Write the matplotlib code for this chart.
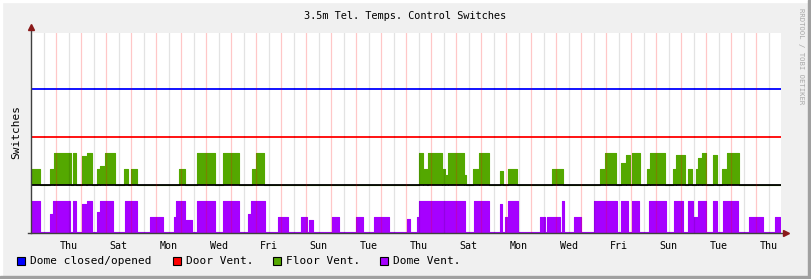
import matplotlib
matplotlib.use("Agg")
import matplotlib.pyplot as plt
from matplotlib.patches import Rectangle
import numpy as np

# ---------------- data ----------------
title = "3.5m Tel. Temps. Control Switches"
ylabel = "Switches"
day_labels = ["Thu", "Sat", "Mon", "Wed", "Fri", "Sun", "Tue", "Thu",
              "Sat", "Mon", "Wed", "Fri", "Sun", "Tue", "Thu"]
legend_names = ["Dome closed/opened", "Door Vent.", "Floor Vent.", "Dome Vent."]
legend_colors = ["#0000FF", "#FF0000", "#54A800", "#A600FF"]

n_days = 30
dome_closed_level = 9.0      # constant line
door_vent_level = 6.0        # constant line
floor_vent_base = 3.0        # baseline for floor vent area

# Floor vent on-intervals: (start_day, end_day, value)
floor_vent = [
    (0.00, 0.36, 1), (0.76, 0.92, 1), (0.92, 1.59, 2), (1.69, 1.80, 2),
    (2.03, 2.20, 1.8), (2.25, 2.45, 2), (2.63, 2.76, 1), (2.76, 2.96, 1.2),
    (2.96, 3.36, 2), (3.72, 3.89, 1), (4.00, 4.25, 1), (5.92, 6.16, 1),
    (6.65, 7.36, 2), (7.67, 8.33, 2), (8.83, 9.00, 1), (9.00, 9.32, 2),
    (15.53, 15.68, 2), (15.68, 15.85, 1), (15.89, 16.43, 2), (16.43, 16.55, 1),
    (16.55, 16.69, 0.6), (16.69, 17.32, 2), (17.32, 17.40, 0.6),
    (17.69, 17.92, 1), (17.92, 18.32, 2), (18.76, 18.89, 0.85),
    (19.09, 19.45, 1), (20.83, 21.29, 1), (22.76, 22.96, 1), (22.96, 23.39, 2),
    (23.59, 23.80, 1.4), (23.80, 23.96, 1.9), (24.05, 24.36, 2),
    (24.65, 24.76, 1), (24.76, 25.36, 2), (25.69, 25.80, 1), (25.80, 26.16, 1.9),
    (26.27, 26.43, 1), (26.60, 26.69, 1), (26.69, 26.83, 1.7), (26.83, 27.00, 2),
    (27.29, 27.43, 1.9), (27.65, 27.83, 1), (27.83, 28.32, 2),
]

# Dome vent on-intervals: (start_day, end_day, value)
dome_vent = [
    (0.00, 0.36, 2), (0.76, 0.89, 1.2), (0.89, 1.56, 2), (1.69, 1.80, 2),
    (2.05, 2.20, 1.8), (2.25, 2.45, 2), (2.63, 2.76, 1.3), (2.76, 3.29, 2),
    (3.76, 4.23, 2), (4.76, 5.29, 1), (5.72, 5.80, 1), (5.80, 6.16, 2),
    (6.20, 6.43, 0.8), (6.63, 7.36, 2), (7.67, 8.33, 2), (8.69, 8.80, 1.2),
    (8.80, 9.36, 2), (9.89, 10.29, 1), (10.80, 11.03, 1), (11.13, 11.27, 0.8),
    (12.03, 12.33, 1), (13.00, 13.29, 1), (13.72, 14.33, 1), (15.05, 15.16, 0.9),
    (15.43, 15.53, 1), (15.53, 17.36, 2), (17.72, 18.32, 2), (18.76, 18.85, 1.8),
    (18.96, 19.09, 1), (19.09, 19.49, 2), (20.36, 20.56, 1), (20.62, 21.16, 1),
    (21.23, 21.32, 2), (21.72, 21.99, 1), (22.53, 23.43, 2), (23.59, 23.89, 2),
    (24.03, 24.33, 2), (24.72, 25.40, 2), (25.72, 26.09, 2), (26.29, 26.47, 2),
    (26.52, 26.69, 1), (26.69, 27.00, 2), (27.29, 27.43, 2), (27.69, 28.29, 2),
    (28.73, 29.29, 1), (29.76, 29.96, 1),
]
dome_vent_off = 0.07


def to_steps(intervals, off, end):
    xs, ys = [0.0], [off]
    for s, e, v in sorted(intervals):
        xs += [s, e]
        ys += [v, off]
    xs.append(end)
    ys.append(off)
    order = np.argsort(np.array(xs), kind="stable")
    return np.array(xs)[order], np.array(ys)[order]


# ---------------- figure ----------------
W, H = 811, 279
fig = plt.figure(figsize=(W / 100, H / 100), dpi=100)
fig.patch.set_facecolor("#F0F0F0")

def fx(px):
    return px / W

def fy(py):
    return 1 - py / H

# 3D border
fig.patches.append(Rectangle((0, fy(2)), 1, 2 / H, transform=fig.transFigure,
                             color="#FFFFFF", zorder=0))
fig.patches.append(Rectangle((0, 0), 2 / W, 1, transform=fig.transFigure,
                             color="#FFFFFF", zorder=0))
fig.patches.append(Rectangle((0, 0), 1, 3 / H, transform=fig.transFigure,
                             color="#A0A0A0", zorder=0))
fig.patches.append(Rectangle((fx(808), 0), 3 / W, 1, transform=fig.transFigure,
                             color="#A0A0A0", zorder=0))

L, R, T, B = 31, 781, 33, 233
ax = fig.add_axes([fx(L), fy(B), (R - L) / W, (B - T) / H])
ax.set_xlim(0, n_days)
ax.set_ylim(0, 12.5)
ax.set_facecolor("white")
for s in ax.spines.values():
    s.set_visible(False)

# data areas
gx, gy = to_steps(floor_vent, 0.0, n_days)
ax.fill_between(gx, floor_vent_base, floor_vent_base + gy, step="post",
                color=legend_colors[2], lw=0, zorder=2)
ax.step(gx, floor_vent_base + gy, where="post", color=legend_colors[2],
        lw=0.8, zorder=2)

px_, py_ = to_steps(dome_vent, dome_vent_off, n_days)
ax.fill_between(px_, 0, py_, step="post", color=legend_colors[3], lw=0, zorder=2)
ax.step(px_, py_, where="post", color=legend_colors[3], lw=0.8, zorder=2)

# constant lines
ax.plot([0, n_days], [dome_closed_level] * 2, color=legend_colors[0], lw=1.3, zorder=3)
ax.plot([0, n_days], [door_vent_level] * 2, color=legend_colors[1], lw=1.3, zorder=3)
ax.plot([0, n_days], [floor_vent_base] * 2, color="#000000", lw=1.3, zorder=3)

# grid (drawn over data, translucent)
for d in np.arange(0.5, n_days, 1.0):
    ax.axvline(d, color=(0, 0, 0, 0.11), lw=0.9, zorder=4)
for d in np.arange(1.0, n_days, 1.0):
    ax.axvline(d, color=(1, 0, 0, 0.22), lw=0.9, zorder=4)

# axes with arrows
ax.plot([0, 0], [0, 12.85], color="#404040", lw=1, clip_on=False, zorder=5)
ax.plot([-0.12, n_days + 0.2], [0, 0], color="#404040", lw=1, clip_on=False, zorder=5)
ax.plot([0], [12.85], marker="^", color="#8B1A1A", ms=4, clip_on=False, zorder=6)
ax.plot([n_days + 0.2], [0], marker=">", color="#8B1A1A", ms=4, clip_on=False, zorder=6)

# ticks
ax.set_xticks(np.arange(1.5, n_days, 2.0))
ax.set_xticklabels(day_labels, fontfamily="DejaVu Sans Mono", fontsize=7.2)
ax.tick_params(axis="x", length=0, pad=6)
ax.set_yticks([])

# texts
fig.text(fx(405), fy(16), title, ha="center", va="center",
         fontfamily="DejaVu Sans Mono", fontsize=7.4)
fig.text(fx(16), fy(132), ylabel, ha="center", va="center", rotation=90,
         fontfamily="DejaVu Sans Mono", fontsize=8)
fig.text(fx(801), fy(8), "RRDTOOL / TOBI OETIKER", ha="center", va="top",
         rotation=270, fontfamily="DejaVu Sans Mono", fontsize=5.2, color="#A8A8A8")

# legend
leg_sq_x = [17, 173, 273, 380]
leg_tx_x = [30, 186, 286, 393]
for name, col, sx, tx in zip(legend_names, legend_colors, leg_sq_x, leg_tx_x):
    fig.patches.append(Rectangle((fx(sx), fy(265)), 8 / W, 8 / H,
                                 transform=fig.transFigure, facecolor=col,
                                 edgecolor="black", lw=0.8))
    fig.text(fx(tx), fy(261), name, ha="left", va="center",
             fontfamily="DejaVu Sans Mono", fontsize=8)

fig.savefig("out.png", dpi=100, facecolor=fig.get_facecolor())
